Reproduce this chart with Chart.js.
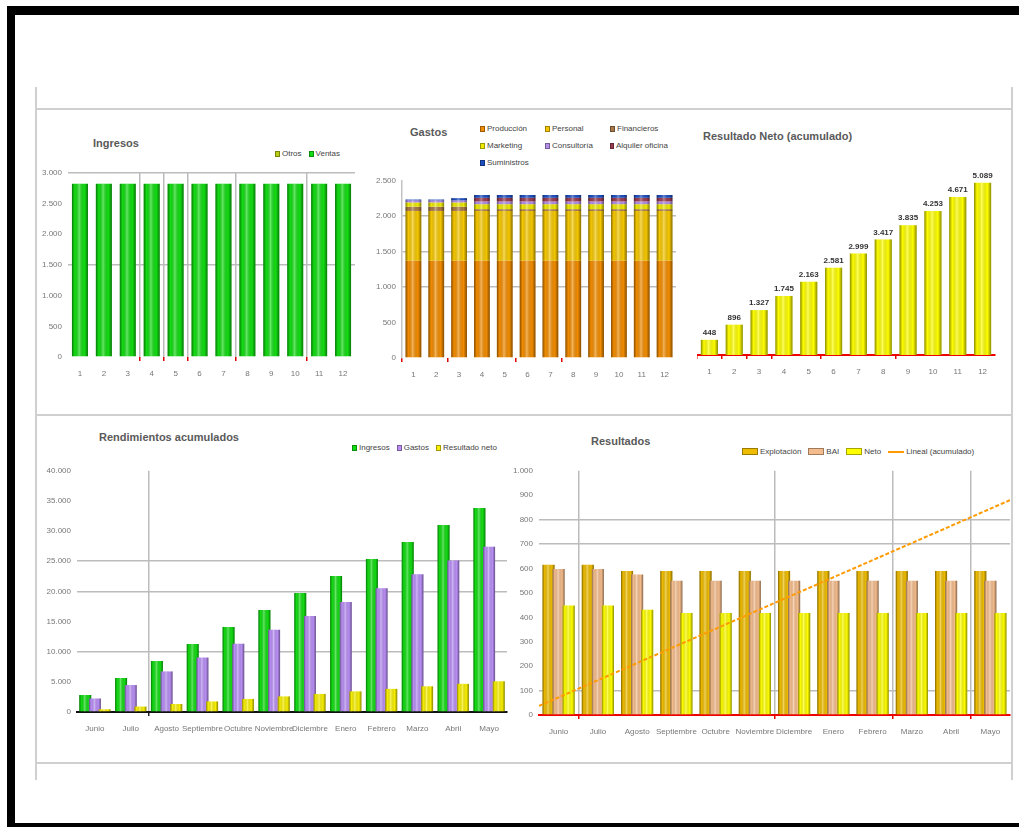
<!DOCTYPE html>
<html lang="es">
<head>
<meta charset="utf-8">
<title>Cuadro de mando</title>
<script src="https://cdn.jsdelivr.net/npm/chart.js@4.4.1/dist/chart.umd.min.js"></script>
<style>
  body { margin: 0; background: #fff; }
  #hoja { position: relative; width: 1019px; height: 827px; overflow: hidden; background: #fff; font-family: "Liberation Sans", Arial, sans-serif; }
  .marco { position: absolute; background: #000; }
  .linea { position: absolute; background: #d0d0d0; }
  canvas { position: absolute; }
  .titulo { position: absolute; font-size: 11px; font-weight: bold; color: #5a5a5a; white-space: nowrap; }
  .leyenda { position: absolute; font-size: 8px; color: #444; white-space: nowrap; display: flex; align-items: center; }
  .leyenda .item { display: flex; align-items: center; margin-right: 7px; }
  .leyenda i { display: inline-block; width: 5px; height: 6px; margin-right: 2px; border: 1px solid rgba(0,0,0,0.35); box-sizing: border-box; }
  #ley2 { display: grid; grid-template-columns: 65px 65px 65px; row-gap: 8px; }
  #ley5 i { width: 16px; height: 7px; }
  #ley5 i.raya { height: 2px; border: none; }
</style>
</head>
<body>
<div id="hoja">
  <!-- marco negro -->
  <div class="marco" style="left:7px;top:6px;width:1012px;height:9px"></div>
  <div class="marco" style="left:7px;top:6px;width:8px;height:821px"></div>
  <div class="marco" style="left:7px;top:823px;width:1012px;height:4px"></div>
  <!-- rejilla del panel -->
  <div class="linea" style="left:35px;top:87px;width:2px;height:693px"></div>
  <div class="linea" style="left:1011px;top:87px;width:2px;height:693px"></div>
  <div class="linea" style="left:35px;top:108px;width:978px;height:2px"></div>
  <div class="linea" style="left:35px;top:414px;width:978px;height:2px"></div>
  <div class="linea" style="left:35px;top:762px;width:978px;height:2px"></div>

  <div class="titulo" style="left:93px;top:137px">Ingresos</div>
  <div class="titulo" style="left:410px;top:126px">Gastos</div>
  <div class="titulo" style="left:703px;top:130px">Resultado Neto (acumulado)</div>
  <div class="titulo" style="left:99px;top:431px">Rendimientos acumulados</div>
  <div class="titulo" style="left:591px;top:435px">Resultados</div>

  <div class="leyenda" id="ley1" style="left:275px;top:149px"></div>
  <div class="leyenda" id="ley2" style="left:480px;top:124px"></div>
  <div class="leyenda" id="ley4" style="left:352px;top:443px"></div>
  <div class="leyenda" id="ley5" style="left:742px;top:447px"></div>

  <canvas id="c1" width="324" height="228" style="left:36px;top:162px"></canvas>
  <canvas id="c2" width="312" height="220" style="left:368px;top:170px"></canvas>
  <canvas id="c3" width="300" height="238" style="left:697px;top:152px"></canvas>
  <canvas id="c4" width="472" height="290" style="left:36px;top:460px"></canvas>
  <canvas id="c5" width="503" height="290" style="left:508px;top:460px"></canvas>
  <!-- la recta de tendencia va en una capa encima, con la misma área -->
  <canvas id="c5t" width="503" height="290" style="left:508px;top:460px"></canvas>
</div>

<script>
// --- datos ---
const periodos = ["1", "2", "3", "4", "5", "6", "7", "8", "9", "10", "11", "12"];
const meses = ["Junio", "Julio", "Agosto", "Septiembre", "Octubre", "Noviembre", "Diciembre", "Enero", "Febrero", "Marzo", "Abril", "Mayo"];

const ventas = [2820, 2820, 2820, 2820, 2820, 2820, 2820, 2820, 2820, 2820, 2820, 2820];
const otros = [0, 0, 0, 0, 0, 0, 0, 0, 0, 0, 0, 0];

const gProduccion = [1375, 1375, 1375, 1375, 1375, 1375, 1375, 1375, 1375, 1375, 1375, 1375];
const gPersonal = [700, 700, 700, 700, 700, 700, 700, 700, 700, 700, 700, 700];
const gFinancieros = [60, 60, 60, 25, 25, 25, 25, 25, 25, 25, 25, 25];
const gMarketing = [60, 60, 60, 70, 70, 70, 70, 70, 70, 70, 70, 70];
const gConsultoria = [30, 30, 30, 40, 40, 40, 40, 40, 40, 40, 40, 40];
const gAlquiler = [0, 0, 0, 50, 50, 50, 50, 50, 50, 50, 50, 50];
const gSuministros = [10, 10, 30, 40, 40, 40, 40, 40, 40, 40, 40, 40];

const netoAcumulado = [448, 896, 1327, 1745, 2163, 2581, 2999, 3417, 3835, 4253, 4671, 5089];
const ingresosAcum = [2820, 5640, 8460, 11280, 14100, 16920, 19740, 22560, 25380, 28200, 31020, 33840];
const gastosAcum = [2235, 4470, 6725, 9025, 11325, 13625, 15925, 18225, 20525, 22825, 25125, 27425];

const resExplotacion = [615, 615, 590, 590, 590, 590, 590, 590, 590, 590, 590, 590];
const resBAI = [598, 598, 575, 550, 550, 550, 550, 550, 550, 550, 550, 550];
const resNeto = [448, 448, 431, 418, 418, 418, 418, 418, 418, 418, 418, 418];
// recta de tendencia, de borde a borde del área (meses 0,5 a 12,5)
const tendenciaX = [0.5, 12.5];
const tendenciaY = [37, 877];

// --- utilidades ---
const miles = v => String(v).replace(/\B(?=(\d{3})+(?!\d))/g, ".");
const TRANSP = "rgba(0,0,0,0)";
const GRIS = "#bcbcbc";
const fuente = { family: "'Liberation Sans', Arial, sans-serif", size: 8 };

function brillo(ctx, meta){
	for (const bar of meta.data){
		const p = bar.getProps(["x", "y", "base", "width"], true);
		const izq = p.x - p.width / 2;
		const g = ctx.createLinearGradient(izq, 0, izq + p.width, 0);
		g.addColorStop(0, "rgba(0,0,0,0.45)");
		g.addColorStop(0.18, "rgba(0,0,0,0)");
		g.addColorStop(0.45, "rgba(255,255,255,0.35)");
		g.addColorStop(0.78, "rgba(0,0,0,0)");
		g.addColorStop(1, "rgba(0,0,0,0.45)");
		ctx.fillStyle = g;
		ctx.fillRect(izq, Math.min(p.y, p.base), p.width, Math.abs(p.base - p.y));
	}
}

// dibuja las series en orden (la última queda delante) y sombrea las barras
const barras3d = {
	id: "barras3d",
	beforeDatasetsDraw(chart){
		const ctx = chart.ctx;
		const area = chart.chartArea;
		const metas = chart.getSortedVisibleDatasetMetas().slice().sort((a, b) => a.index - b.index);
		for (const meta of metas){
			ctx.save();
			ctx.beginPath();
			ctx.rect(area.left, area.top - 20, area.right - area.left, area.bottom - area.top + 20);
			ctx.clip();
			meta.controller.draw();
			if (meta.type === "bar") brillo(ctx, meta);
			ctx.restore();
		}
		return false;
	}
};

// valores encima de las barras (gráfico acumulado)
const etiquetas = {
	id: "etiquetas",
	afterDraw(chart){
		const meta = chart.getDatasetMeta(0);
		const datos = chart.data.datasets[0].data;
		const ctx = chart.ctx;
		ctx.save();
		ctx.font = "bold 8px 'Liberation Sans', Arial, sans-serif";
		ctx.fillStyle = "#333";
		ctx.textAlign = "center";
		ctx.textBaseline = "bottom";
		meta.data.forEach((bar, i) => ctx.fillText(miles(datos[i]), bar.x, bar.y - 3));
		ctx.restore();
	}
};

function ejeY(ancho, max, paso, lineas, borde){
	return {
		min: 0, max: max,
		ticks: { stepSize: paso, callback: miles, font: fuente, color: "#777", padding: 6 },
		grid: { color: c => lineas.includes(c.tick.value) ? GRIS : TRANSP, lineWidth: 1.5, drawTicks: false },
		border: { display: !!borde, color: borde || TRANSP, width: 1.5 },
		afterFit: s => { s.width = ancho; }
	};
}

function ejeX(alto, lineas, marcas, colorMarca, base){
	return {
		ticks: { font: fuente, color: "#777", padding: 8, maxRotation: 0, autoSkip: false },
		grid: {
			offset: true,
			color: c => lineas.includes(c.index) ? GRIS : TRANSP,
			tickColor: c => marcas.includes(c.index) ? colorMarca : TRANSP,
			tickLength: 4, lineWidth: 1.5
		},
		border: { display: !!base, color: base || TRANSP, width: 2 },
		afterFit: s => { s.height = alto; }
	};
}

const comunes = {
	responsive: false,
	animation: false,
	plugins: { legend: { display: false }, tooltip: { enabled: false } }
};

function leyenda(id, ...graficos){
	const caja = document.getElementById(id);
	for (const chart of graficos){
		chart.data.datasets.forEach(ds => {
			const item = document.createElement("span");
			item.className = "item";
			const muestra = document.createElement("i");
			if (chart.config.type === "line"){
				muestra.className = "raya";
				muestra.style.background = ds.borderColor;
			} else {
				muestra.style.background = ds.backgroundColor;
			}
			item.appendChild(muestra);
			item.appendChild(document.createTextNode(ds.label));
			caja.appendChild(item);
		});
	}
}

// --- Ingresos ---
const graf1 = new Chart(document.getElementById("c1"), {
	type: "bar",
	data: {
		labels: periodos,
		datasets: [
			{ label: "Otros", data: otros, backgroundColor: "#b8cc10" },
			{ label: "Ventas", data: ventas, backgroundColor: "#12dc12" }
		]
	},
	options: {
		...comunes,
		layout: { padding: { top: 10, right: 5 } },
		datasets: { bar: { categoryPercentage: 1, barPercentage: 0.67 } },
		scales: {
			x: { stacked: true, ...ejeX(33, [3, 4, 5, 7, 10], [3, 4, 5, 7, 10], "#e00000", null) },
			y: { stacked: true, ...ejeY(32, 3000, 500, [1500, 3000], null) }
		}
	},
	plugins: [barras3d]
});
leyenda("ley1", graf1);

// --- Gastos ---
const graf2 = new Chart(document.getElementById("c2"), {
	type: "bar",
	data: {
		labels: periodos,
		datasets: [
			{ label: "Producción", data: gProduccion, backgroundColor: "#f28c00" },
			{ label: "Personal", data: gPersonal, backgroundColor: "#f6c800" },
			{ label: "Financieros", data: gFinancieros, backgroundColor: "#a87848" },
			{ label: "Marketing", data: gMarketing, backgroundColor: "#eeea00" },
			{ label: "Consultoría", data: gConsultoria, backgroundColor: "#b48ee8" },
			{ label: "Alquiler oficina", data: gAlquiler, backgroundColor: "#9a3c50" },
			{ label: "Suministros", data: gSuministros, backgroundColor: "#1e4fc0" }
		]
	},
	options: {
		...comunes,
		layout: { padding: { top: 10, right: 4 } },
		datasets: { bar: { categoryPercentage: 1, barPercentage: 0.69 } },
		scales: {
			x: { stacked: true, ...ejeX(32, [], [0, 2, 5, 7], "#e00000", null) },
			y: { stacked: true, ...ejeY(34, 2500, 500, [1000, 1500, 2000], "#c4c4c4") }
		}
	},
	plugins: [barras3d]
});
leyenda("ley2", graf2);

// --- Resultado neto acumulado ---
new Chart(document.getElementById("c3"), {
	type: "bar",
	data: {
		labels: periodos,
		datasets: [{ label: "Resultado Neto", data: netoAcumulado, backgroundColor: "#ffff00" }]
	},
	options: {
		...comunes,
		layout: { padding: { top: 0, right: 2 } },
		datasets: { bar: { categoryPercentage: 1, barPercentage: 0.69 } },
		scales: {
			x: ejeX(35, [], [0, 1, 2, 3, 5, 8], "#e00000", "#ee0000"),
			y: { display: false, min: 0, max: 6000 }
		}
	},
	plugins: [barras3d, etiquetas]
});

// --- Rendimientos acumulados ---
const graf4 = new Chart(document.getElementById("c4"), {
	type: "bar",
	data: {
		labels: meses,
		datasets: [
			{ label: "Ingresos", data: ingresosAcum, backgroundColor: "#12dc12" },
			{ label: "Gastos", data: gastosAcum, backgroundColor: "#b88ef4" },
			{ label: "Resultado neto", data: netoAcumulado, backgroundColor: "#f8f000" }
		]
	},
	options: {
		...comunes,
		layout: { padding: { top: 10, right: 1 } },
		datasets: { bar: { categoryPercentage: 0.81, barPercentage: 1.24 } },
		scales: {
			x: ejeX(38, [2], [2], "#222", "#111"),
			y: ejeY(41, 40000, 5000, [10000, 20000, 25000], null)
		}
	},
	plugins: [barras3d]
});
leyenda("ley4", graf4);

// --- Resultados mensuales ---
const graf5 = new Chart(document.getElementById("c5"), {
	type: "bar",
	data: {
		labels: meses,
		datasets: [
			{ label: "Explotación", data: resExplotacion, backgroundColor: "#eebc00" },
			{ label: "BAI", data: resBAI, backgroundColor: "#f4bc8c" },
			{ label: "Neto", data: resNeto, backgroundColor: "#ffff00" }
		]
	},
	options: {
		...comunes,
		layout: { padding: { top: 10, right: 1 } },
		datasets: { bar: { categoryPercentage: 0.77, barPercentage: 1.2 } },
		scales: {
			x: ejeX(35, [1, 6, 9, 11], [1, 6, 9, 11], "#e00000", "#ee0000"),
			y: ejeY(31, 1000, 100, [100, 700, 800], null)
		}
	},
	plugins: [barras3d]
});

// tendencia: misma área que el gráfico de barras, eje x numérico por meses
const graf5t = new Chart(document.getElementById("c5t"), {
	type: "line",
	data: {
		datasets: [{
			label: "Lineal (acumulado)",
			data: tendenciaX.map((x, i) => ({ x: x, y: tendenciaY[i] })),
			borderColor: "#ff9a00", borderWidth: 2, borderDash: [4, 2], pointRadius: 0
		}]
	},
	options: {
		...comunes,
		layout: { padding: { left: 31, top: 10, right: 1, bottom: 35 } },
		scales: {
			x: { type: "linear", display: false, min: 0.5, max: 12.5 },
			y: { display: false, min: 0, max: 1000 }
		}
	}
});
leyenda("ley5", graf5, graf5t);
</script>
</body>
</html>
